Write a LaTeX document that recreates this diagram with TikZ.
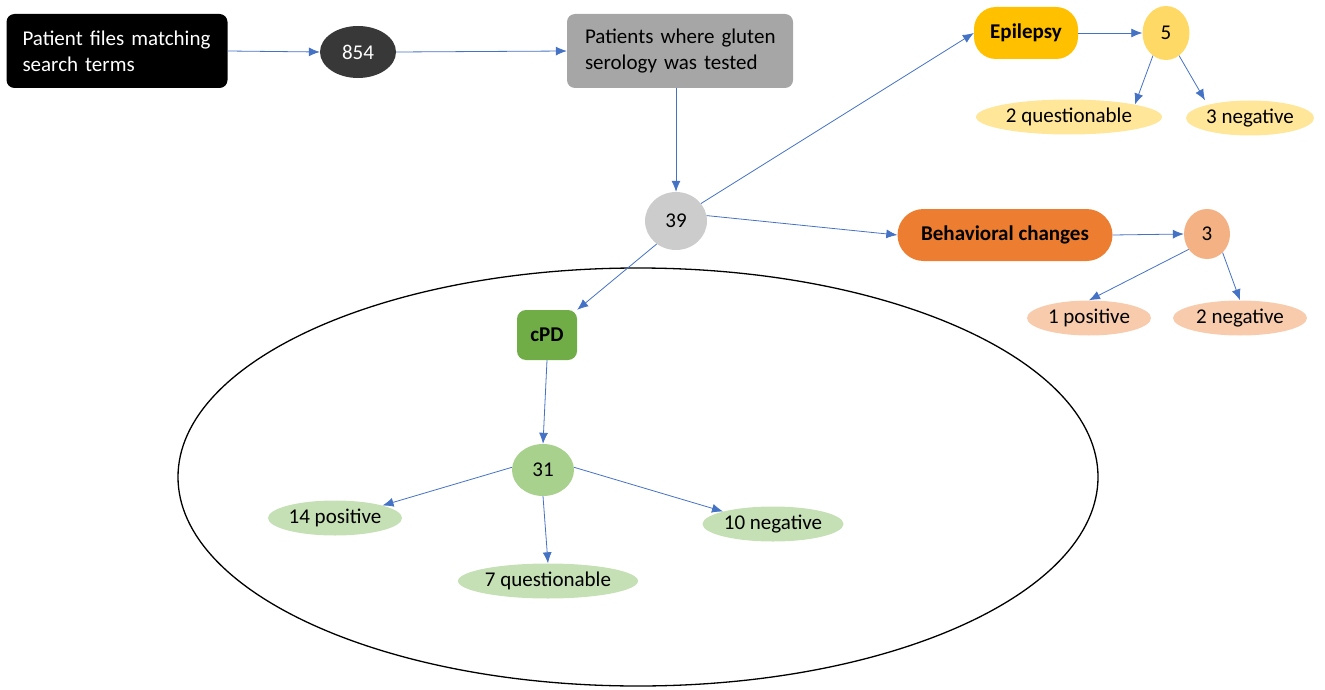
\documentclass[tikz,border=0pt]{standalone}
\usepackage{fontspec}
\setmainfont{Carlito}
\usetikzlibrary{arrows.meta,shapes.geometric}
\definecolor{arrowblue}{HTML}{4472C4}
\definecolor{gold}{HTML}{FFC000}
\definecolor{lgold}{HTML}{FFD966}
\definecolor{llgold}{HTML}{FFE699}
\definecolor{orng}{HTML}{ED7D31}
\definecolor{lorng}{HTML}{F4B183}
\definecolor{llorng}{HTML}{F8CBAD}
\definecolor{grn}{HTML}{70AD47}
\definecolor{lgrn}{HTML}{A9D18E}
\definecolor{llgrn}{HTML}{C5E0B4}
\begin{document}
\begin{tikzpicture}[x=1pt,y=-1pt,
  font=\fontsize{21}{26}\selectfont,
  every node/.style={inner sep=0pt},
  bold/.style={font=\fontsize{21}{26}\selectfont\bfseries},
  conn/.style={draw=arrowblue,line width=0.8pt,-{Latex[length=11pt,width=9pt]}},
  rbox/.style={rectangle,rounded corners=8pt,minimum width=#1,minimum height=74pt},
  oval/.style={ellipse,minimum width=#1,minimum height=52pt},
  leaf/.style={ellipse,minimum width=#1,minimum height=35pt},
  pill/.style={rectangle,rounded corners=22pt,minimum height=52pt,minimum width=#1}]
\useasboundingbox (0,0) rectangle (1325,690);
% big ellipse
\draw[line width=1.3pt] (638,477) ellipse[x radius=460,y radius=209];
% nodes
\node[rbox=221pt,fill=black,text=white,align=left,text width=189pt] (files) at (117,51) {Patient files matching\\search terms};
\node[oval=76pt,fill=black!78,text=white] (n854) at (358,52) {854};
\node[rbox=226pt,fill=black!35,align=left,text width=190pt] (gray) at (680,51) {Patients~where~gluten\\serology was tested};
\node[ellipse,minimum width=62pt,minimum height=58pt,fill=black!20] (n39) at (676,221) {39};
\node[pill=104pt,fill=gold,bold] (epi) at (1026,33) {Epilepsy};
\node[ellipse,minimum width=47pt,minimum height=54pt,fill=lgold] (n5) at (1166,33) {5};
\node[leaf=186pt,fill=llgold] (q2) at (1069,117) {2 questionable};
\node[leaf=128pt,fill=llgold] (neg3) at (1250,118) {3 negative};
\node[pill=215pt,fill=orng,rounded corners=26pt,bold] (beh) at (1005,235) {Behavioral changes};
\node[ellipse,minimum width=46pt,minimum height=50pt,fill=lorng] (n3) at (1207,234) {3};
\node[leaf=124pt,fill=llorng] (pos1) at (1089,318) {1 positive};
\node[leaf=134pt,fill=llorng] (neg2) at (1240,318) {2 negative};
\node[rectangle,rounded corners=9pt,minimum width=60pt,minimum height=50pt,fill=grn,bold] (cpd) at (547,335) {cPD};
\node[ellipse,minimum width=62pt,minimum height=52pt,fill=lgrn] (n31) at (543,470) {31};
\node[leaf=134pt,fill=llgrn] (pos14) at (335,518) {14 positive};
\node[leaf=141pt,fill=llgrn] (neg10) at (773,524) {10 negative};
\node[leaf=180pt,fill=llgrn] (q7) at (548,581) {7 questionable};
% connectors
\draw[conn] (files.east) -- (n854.west);
\draw[conn] (n854.east) -- (gray.west);
\draw[conn] (gray.south -| n39.north) -- (n39.north);
\draw[conn] (n39.35) -- (epi.west);
\draw[conn] (n39.10) -- (beh.west);
\draw[conn] (n39.230) -- (cpd.north east);
\draw[conn] (cpd.south) -- (n31.north);
\draw[conn] (n31.175) -- (pos14.north east);
\draw[conn] (n31.south) -- (q7.north);
\draw[conn] (n31.5) -- (neg10.north west);
\draw[conn] (epi.east) -- (n5.west);
\draw[conn] (n5.240) -- (q2.north east);
\draw[conn] (n5.300) -- ([xshift=-45pt]neg3.north);
\draw[conn] (beh.east) -- (n3.west);
\draw[conn] (n3.220) -- (pos1.north);
\draw[conn] (n3.310) -- (neg2.north);
\end{tikzpicture}
\end{document}
